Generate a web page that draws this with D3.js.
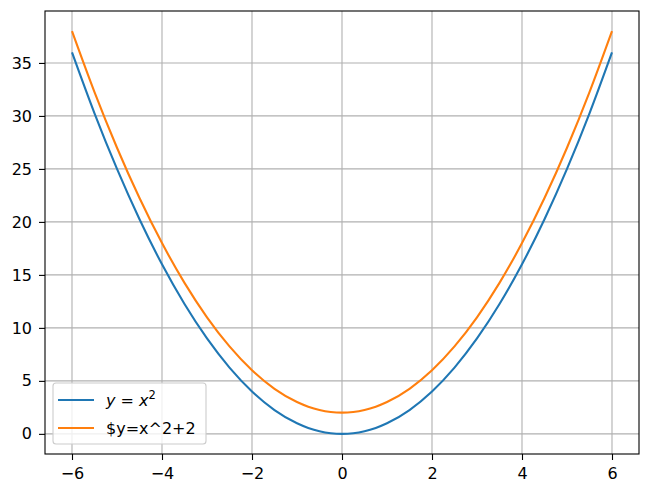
<!DOCTYPE html>
<html>
<head>
<meta charset="utf-8">
<script src="https://cdn.jsdelivr.net/npm/d3@7"></script>
<style>
  body { margin: 0; background: white; }
  text { font-family: "DejaVu Sans", sans-serif; }
</style>
</head>
<body>
<div id="container"></div>
<script>
// values
var xs  = [-6, -5.5, -5, -4.5, -4, -3.5, -3, -2.5, -2, -1.5, -1, -0.75, -0.5, -0.25, 0,
           0.25, 0.5, 0.75, 1, 1.5, 2, 2.5, 3, 3.5, 4, 4.5, 5, 5.5, 6];
var ySq = [36, 30.25, 25, 20.25, 16, 12.25, 9, 6.25, 4, 2.25, 1, 0.5625, 0.25, 0.0625, 0,
           0.0625, 0.25, 0.5625, 1, 2.25, 4, 6.25, 9, 12.25, 16, 20.25, 25, 30.25, 36];
var ySq2 = [38, 32.25, 27, 22.25, 18, 14.25, 11, 8.25, 6, 4.25, 3, 2.5625, 2.25, 2.0625, 2,
            2.0625, 2.25, 2.5625, 3, 4.25, 6, 8.25, 11, 14.25, 18, 22.25, 27, 32.25, 38];
var xTicks = [-6, -4, -2, 0, 2, 4, 6];
var yTicks = [0, 5, 10, 15, 20, 25, 30, 35];

var w = 651, h = 495;
var m = {left: 45, right: 12, top: 11, bottom: 41};
var fs = "16px";

var svg = d3.select("#container").append("svg")
    .attr("width", w).attr("height", h);

var x = d3.scaleLinear().domain([-6.6, 6.6]).range([m.left, w - m.right]);
var y = d3.scaleLinear().domain([-1.9, 39.9]).range([h - m.bottom, m.top]);

// grid
svg.append("g").selectAll("line").data(xTicks).enter().append("line")
    .attr("x1", function(d) { return x(d); }).attr("x2", function(d) { return x(d); })
    .attr("y1", m.top).attr("y2", h - m.bottom)
    .attr("stroke", "#b0b0b0").attr("stroke-width", 1.1);
svg.append("g").selectAll("line").data(yTicks).enter().append("line")
    .attr("y1", function(d) { return y(d); }).attr("y2", function(d) { return y(d); })
    .attr("x1", m.left).attr("x2", w - m.right)
    .attr("stroke", "#b0b0b0").attr("stroke-width", 1.1);

// lines
var line = function(ys) {
  return d3.line()
    .x(function(d, i) { return x(xs[i]); })
    .y(function(d) { return y(d); })
    .curve(d3.curveMonotoneX)(ys);
};
svg.append("path").attr("d", line(ySq)).attr("fill", "none")
    .attr("stroke", "#1f77b4").attr("stroke-width", 2.1);
svg.append("path").attr("d", line(ySq2)).attr("fill", "none")
    .attr("stroke", "#ff7f0e").attr("stroke-width", 2.1);

// axes
var fmt = function(d) { return d < 0 ? "\u2212" + Math.abs(d) : d; };
var gx = svg.append("g").attr("transform", "translate(0," + (h - m.bottom) + ")")
    .call(d3.axisBottom(x).tickValues(xTicks).tickSize(6).tickPadding(8).tickFormat(fmt));
var gy = svg.append("g").attr("transform", "translate(" + m.left + ",0)")
    .call(d3.axisLeft(y).tickValues(yTicks).tickSize(6).tickPadding(7).tickFormat(fmt));
[gx, gy].forEach(function(g) {
  g.select(".domain").remove();
  g.selectAll("line").attr("stroke", "#000").attr("stroke-width", 1.1);
  g.selectAll("text").attr("font-size", fs).attr("fill", "#000")
    .style("font-family", "DejaVu Sans");
});

// frame
svg.append("rect").attr("x", m.left).attr("y", m.top)
    .attr("width", w - m.left - m.right).attr("height", h - m.top - m.bottom)
    .attr("fill", "none").attr("stroke", "#000").attr("stroke-width", 1.1);

// legend
var lg = svg.append("g");
lg.append("rect").attr("x", 53).attr("y", 383).attr("width", 153).attr("height", 61)
    .attr("rx", 3).attr("fill", "white").attr("fill-opacity", 0.8)
    .attr("stroke", "#cccccc").attr("stroke-width", 1.1);
var items = [{c: "#1f77b4", y: 400}, {c: "#ff7f0e", y: 428}];
items.forEach(function(it) {
  lg.append("line").attr("x1", 58).attr("x2", 94).attr("y1", it.y).attr("y2", it.y)
    .attr("stroke", it.c).attr("stroke-width", 2.1);
});
var t1 = lg.append("text").attr("x", 106).attr("y", 406).attr("font-size", fs);
t1.append("tspan").attr("font-style", "italic").text("y");
t1.append("tspan").text(" = ");
t1.append("tspan").attr("font-style", "italic").text("x");
t1.append("tspan").attr("font-size", "11.5px").attr("dy", -7).text("2");
lg.append("text").attr("x", 106).attr("y", 434).attr("font-size", fs).text("$y=x^2+2");
</script>
</body>
</html>
